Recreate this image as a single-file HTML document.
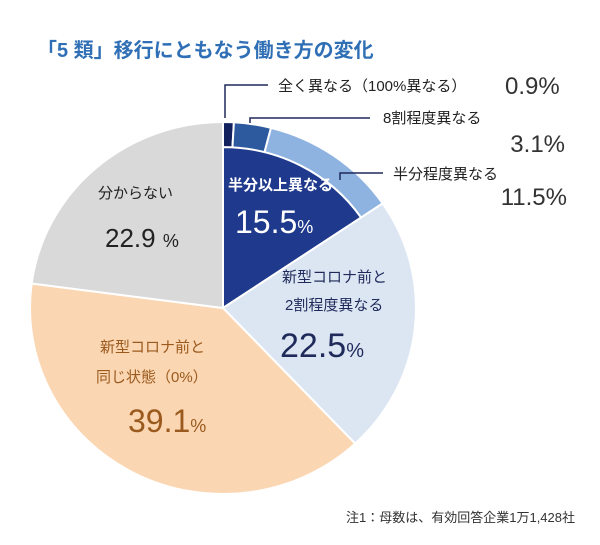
<!DOCTYPE html>
<html><head><meta charset="utf-8"><style>
body{margin:0;background:#fff;}
svg{display:block;font-family:"Liberation Sans","Noto Sans CJK JP",sans-serif;}
</style></head><body>
<svg width="600" height="545" viewBox="0 0 600 545">
<text x="37" y="57" font-size="20" fill="#2f6fb5" font-weight="bold">「5 類」移行にともなう働き方の変化</text>
<g id="slices"></g>
<g id="labels">
<path d="M225,118 V85 H268" stroke="#1f2a5a" stroke-width="1.5" fill="none"/>
<path d="M250,123 V118 H370" stroke="#1f2a5a" stroke-width="1.5" fill="none"/>
<path d="M340,180 V173 H383" stroke="#1f2a5a" stroke-width="1.5" fill="none"/>
<text x="278" y="91" font-size="15" fill="#222">全く異なる（100%異なる）</text>
<text x="505" y="94" font-size="24" fill="#333">0.9%</text>
<text x="383" y="123" font-size="15" fill="#222">8割程度異なる</text>
<text x="565" y="152" font-size="24" fill="#333" text-anchor="end">3.1%</text>
<text x="393" y="179" font-size="15" fill="#222">半分程度異なる</text>
<text x="567" y="205" font-size="24" fill="#333" text-anchor="end">11.5%</text>
<text x="228" y="190" font-size="15" fill="#fff" font-weight="bold">半分以上異なる</text>
<text x="235" y="233" font-size="32" fill="#fff">15.5<tspan font-size="18">%</tspan></text>
<text x="282" y="282" font-size="15" fill="#1f2a5a">新型コロナ前と</text>
<text x="285" y="310" font-size="15" fill="#1f2a5a">2割程度異なる</text>
<text x="280" y="357" font-size="34" fill="#1f2a5a">22.5<tspan font-size="20">%</tspan></text>
<text x="98" y="198" font-size="15" fill="#222">分からない</text>
<text x="105" y="247" font-size="26" fill="#222">22.9 <tspan font-size="18">%</tspan></text>
<text x="100" y="352" font-size="15" fill="#9a5a1e">新型コロナ前と</text>
<text x="96" y="382" font-size="15" fill="#9a5a1e">同じ状態（0%）</text>
<text x="128" y="432" font-size="32" fill="#9a5a1e">39.1<tspan font-size="18">%</tspan></text>
</g>
<text x="575" y="522" font-size="13" fill="#333" text-anchor="end">注1：母数は、有効回答企業1万1,428社</text>
</svg>
<script>
const mainCategories = ["半分以上異なる","新型コロナ前と2割程度異なる","新型コロナ前と同じ状態","分からない"];
const mainValues = [15.5, 22.5, 39.1, 22.9];
const subCategories = ["全く異なる","8割程度異なる","半分程度異なる"];
const subValues = [0.9, 3.1, 11.5];
const cx=223, cy=308, rx=193, ry=186, innerRatio=0.865;
const mainColors=["#1f3a8c","#dce6f3","#fbd6b2","#d9d9d9"];
const subColors=["#13215e","#2d5a9e","#8fb3e0"];
const ns="http://www.w3.org/2000/svg";
const g=document.getElementById('slices');
function pt(a,k){return [cx+rx*k*Math.sin(a), cy-ry*k*Math.cos(a)];}
function wedge(a0,a1,k){
  const p0=pt(a0,k),p1=pt(a1,k),large=(a1-a0)>Math.PI?1:0;
  return `M${cx},${cy} L${p0[0]},${p0[1]} A${rx*k},${ry*k} 0 ${large} 1 ${p1[0]},${p1[1]} Z`;
}
const total=mainValues.reduce((a,b)=>a+b,0);
let a=0;
mainValues.forEach((v,i)=>{
  const a1=a+v/total*2*Math.PI;
  if(i===0){
    let s=a;
    subValues.forEach((sv,j)=>{
      const e=s+sv/total*2*Math.PI;
      const p=document.createElementNS(ns,'path');
      p.setAttribute('d',wedge(s,e,1));
      p.setAttribute('fill',subColors[j]);
      p.setAttribute('stroke','#fff');p.setAttribute('stroke-width','2');
      
      
      g.appendChild(p);
      s=e;
    });
    const p=document.createElementNS(ns,'path');
    p.setAttribute('d',wedge(a,a1,innerRatio));
    p.setAttribute('fill',mainColors[0]);
    p.setAttribute('stroke','#fff');p.setAttribute('stroke-width','2');
    
    
    g.appendChild(p);
  } else {
    const p=document.createElementNS(ns,'path');
    p.setAttribute('d',wedge(a,a1,1));
    p.setAttribute('fill',mainColors[i]);
    p.setAttribute('stroke','#fff');p.setAttribute('stroke-width','2');
    
    
    g.appendChild(p);
  }
  a=a1;
});
</script>
</body></html>
